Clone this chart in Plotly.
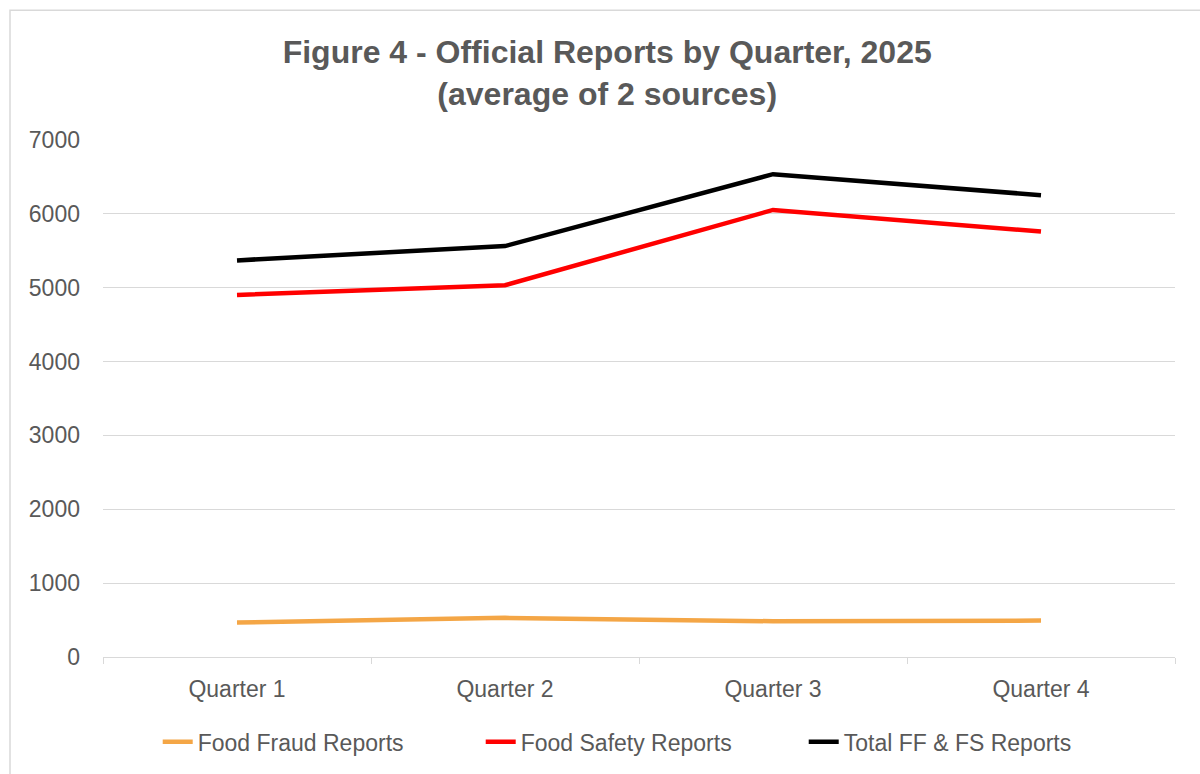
import plotly.graph_objects as go

quarters = ["Quarter 1", "Quarter 2", "Quarter 3", "Quarter 4"]
food_fraud = [467, 530, 484, 493]
food_safety = [4903, 5034, 6053, 5760]
total_ff_fs = [5370, 5564, 6537, 6253]

series = [
    ("Food Fraud Reports", food_fraud, "#F4A646"),
    ("Food Safety Reports", food_safety, "#FF0000"),
    ("Total FF & FS Reports", total_ff_fs, "#000000"),
]

fig = go.Figure()
for name, vals, col in series:
    fig.add_trace(go.Scatter(x=quarters, y=vals, name=name, mode="lines",
                             line=dict(color=col, width=4.5)))

grey = "#595959"
fig.update_layout(
    width=1200, height=774,
    paper_bgcolor="white", plot_bgcolor="white",
    font=dict(family="Liberation Sans, Arial, sans-serif", color=grey, size=23),
    margin=dict(l=103, r=25, t=140, b=116),
    title=dict(text="<b>Figure 4 - Official Reports by Quarter, 2025<br>(average of 2 sources)</b>",
               x=0.506, xanchor="center", yref="container", y=0.918, yanchor="top",
               font=dict(size=32, color=grey)),
    showlegend=True,
    legend=dict(orientation="h", x=0.503, xanchor="center", y=-0.162, yanchor="middle",
                font=dict(size=23, color=grey), entrywidth=278),
    xaxis=dict(showline=True, linecolor="#D9D9D9", linewidth=1, range=[-0.5, 3.5],
               ticks="outside", tickson="boundaries", ticklen=6, tickcolor="#D9D9D9",
               showgrid=False, ticklabelstandoff=11, fixedrange=True),
    yaxis=dict(range=[0, 7000], dtick=1000, showgrid=True, gridcolor="#D9D9D9",
               zeroline=False, showline=False, ticklabelstandoff=22, fixedrange=True),
    # light chart border, as in the spreadsheet export
    shapes=[dict(type="rect", xref="paper", yref="paper",
                 x0=-93 / 1072, x1=1.05, y0=-0.3, y1=1 + 130 / 518,
                 line=dict(color="#D9D9D9", width=1.5), fillcolor="rgba(0,0,0,0)")],
)

fig.write_html("out.html", config={"displayModeBar": False},
               post_script="document.body.style.margin='0';")
